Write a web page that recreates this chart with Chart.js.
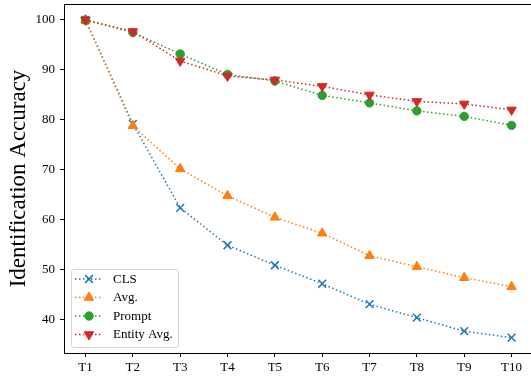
<!DOCTYPE html>
<html>
<head>
<meta charset="utf-8">
<script src="https://cdn.jsdelivr.net/npm/chart.js@4/dist/chart.umd.min.js"></script>
<style>
html,body{margin:0;padding:0;overflow:hidden;background:#fff;}
#wrap{position:relative;width:531px;height:379px;overflow:hidden;}
#c{position:absolute;left:0;top:-3px;display:block;}
</style>
</head>
<body>
<div id="wrap"><canvas id="c" width="538" height="382" style="width:538px;height:382px"></canvas></div>
<script>
const categories = ['T1','T2','T3','T4','T5','T6','T7','T8','T9','T10'];
const clsValues = [100, 79.2, 62.4, 54.9, 50.9, 47.2, 43.1, 40.4, 37.7, 36.4];
const avgValues = [100, 78.8, 70.2, 64.8, 60.5, 57.3, 52.8, 50.6, 48.4, 46.6];
const promptValues = [100, 97.5, 93.2, 89.1, 87.8, 84.9, 83.4, 81.8, 80.7, 78.9];
const entityValues = [100, 97.7, 91.8, 88.8, 88.0, 86.7, 85.0, 83.7, 83.2, 82.0];
const yTicks = [40, 50, 60, 70, 80, 90, 100];
const seriesNames = ['CLS', 'Avg.', 'Prompt', 'Entity Avg.'];

const FONT = "'Liberation Serif', 'DejaVu Serif', serif";
function pts(arr){ return arr.map((v,i)=>({x:i+1, y:v})); }

const styles = [
  {color:'#1f77b4', pointStyle:'crossRot', radius:5.5, rotation:0, borderWidth:1.5, order:3},
  {color:'#ff7f0e', pointStyle:'triangle', radius:5.5, rotation:0, borderWidth:1, order:2},
  {color:'#2ca02c', pointStyle:'circle', radius:4.2, rotation:0, borderWidth:1, order:1},
  {color:'#d62728', pointStyle:'triangle', radius:5.5, rotation:180, borderWidth:1, order:0}
];
const allValues = [clsValues, avgValues, promptValues, entityValues];

const datasets = allValues.map((vals, k) => ({
  label: seriesNames[k],
  data: pts(vals),
  borderColor: styles[k].color,
  backgroundColor: styles[k].color,
  pointBackgroundColor: styles[k].color,
  pointBorderColor: styles[k].color,
  borderWidth: 1.5,
  borderDash: [1.5, 2.5],
  borderCapStyle: 'butt',
  pointStyle: styles[k].pointStyle,
  pointRadius: styles[k].radius,
  pointRotation: styles[k].rotation,
  pointBorderWidth: styles[k].borderWidth,
  pointHoverRadius: styles[k].radius,
  tension: 0,
  fill: false,
  order: styles[k].order,
  clip: false
}));

const framePlugin = {
  id: 'frame',
  beforeDatasetsDraw(chart){
    const {ctx, chartArea:a} = chart;
    ctx.save();
    ctx.strokeStyle = '#000';
    ctx.lineWidth = 1;
    ctx.beginPath();
    ctx.moveTo(a.left, Math.round(a.top)+0.5);
    ctx.lineTo(a.right + 5, Math.round(a.top)+0.5);
    ctx.stroke();
    ctx.restore();
  }
};

const legendPlugin = {
  id: 'innerLegend',
  afterDraw(chart){
    const ctx = chart.ctx;
    const a = chart.chartArea;
    const bx = a.left + 7, by = a.bottom - 84, bw = 107, bh = 78;
    ctx.save();
    ctx.fillStyle = 'rgba(255,255,255,0.8)';
    ctx.strokeStyle = 'rgba(204,204,204,0.8)';
    ctx.lineWidth = 1;
    ctx.beginPath();
    ctx.roundRect(bx+0.5, by+0.5, bw, bh, 2.5);
    ctx.fill();
    ctx.stroke();
    const rowOff = [10, 28.5, 47, 65.5];
    chart.data.datasets.forEach((ds, k) => {
      const y = by + rowOff[k];
      const x0 = bx + 4, x1 = bx + 32, xm = (x0 + x1) / 2;
      ctx.strokeStyle = ds.borderColor;
      ctx.lineWidth = ds.borderWidth;
      ctx.setLineDash(ds.borderDash);
      ctx.lineCap = 'butt';
      ctx.beginPath();
      ctx.moveTo(x0, y);
      ctx.lineTo(x1, y);
      ctx.stroke();
      ctx.setLineDash([]);
      ctx.fillStyle = ds.pointBackgroundColor;
      ctx.strokeStyle = ds.pointBorderColor;
      ctx.lineWidth = ds.pointBorderWidth;
      Chart.helpers.drawPoint(ctx, {
        pointStyle: ds.pointStyle, rotation: ds.pointRotation,
        radius: ds.pointRadius, borderWidth: ds.pointBorderWidth
      }, xm, y);
      ctx.fillStyle = '#000';
      ctx.font = "13px " + FONT;
      ctx.textBaseline = 'middle';
      ctx.textAlign = 'left';
      ctx.fillText(ds.label, bx + 42, y + 0.5);
    });
    ctx.restore();
  }
};

new Chart(document.getElementById('c'), {
  type: 'line',
  data: { datasets },
  options: {
    responsive: false,
    animation: false,
    devicePixelRatio: 1,
    layout: { padding: 0 },
    plugins: { legend: { display: false }, tooltip: { enabled: false } },
    events: [],
    scales: {
      x: {
        type: 'linear',
        min: 0.546, max: 10.41,
        afterFit(s){ s.height = 26; s.paddingLeft = 0; s.paddingRight = 0; },
        afterBuildTicks(s){ s.ticks = categories.map((c,i)=>({value:i+1})); },
        ticks: {
          autoSkip: false,
          color: '#000',
          font: { family: FONT, size: 13 },
          padding: 3,
          maxRotation: 0,
          callback: (v) => categories[Math.round(v) - 1]
        },
        grid: { drawOnChartArea: false, color: '#000', tickLength: 4, tickWidth: 1 },
        border: { color: '#000', width: 1 }
      },
      y: {
        type: 'linear',
        min: 33.33, max: 103.2,
        afterFit(s){ s.width = 64; s.paddingTop = 0; s.paddingBottom = 0; },
        afterBuildTicks(s){ s.ticks = yTicks.map(v=>({value:v})); },
        ticks: {
          color: '#000',
          font: { family: FONT, size: 13 },
          padding: 5
        },
        grid: { drawOnChartArea: false, color: '#000', tickLength: 4, tickWidth: 1 },
        border: { color: '#000', width: 1 },
        title: {
          display: true,
          text: 'Identification Accuracy',
          color: '#000',
          font: { family: FONT, size: 23 },
          padding: { top: 5.5, bottom: 0 }
        }
      }
    }
  },
  plugins: [framePlugin, legendPlugin]
});
</script>
</body>
</html>
